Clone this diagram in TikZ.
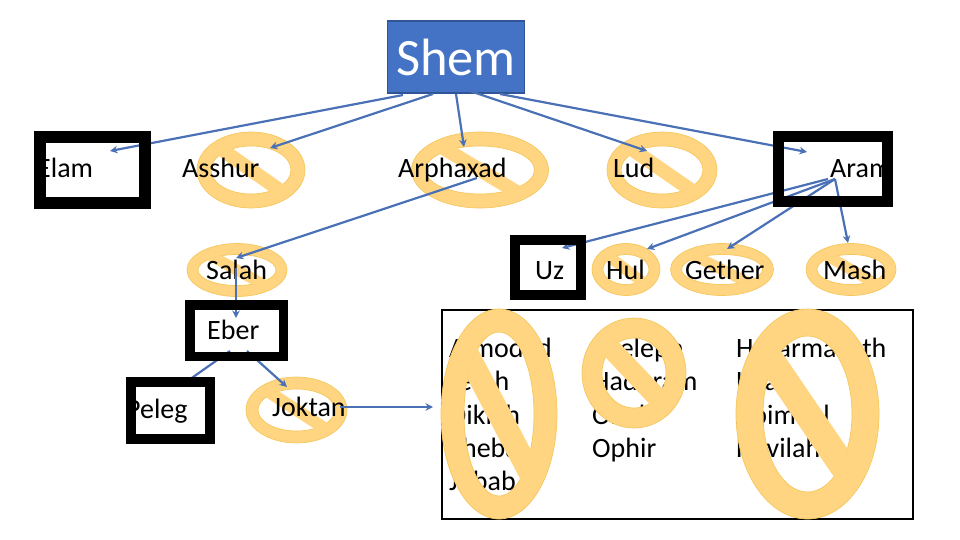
\documentclass[tikz,border=0pt]{standalone}
\usepackage{fontspec}
\setmainfont{Carlito}
\definecolor{shemblue}{HTML}{4472C4}
\definecolor{shemedge}{HTML}{2F5597}
\definecolor{arrowblue}{HTML}{4A70B5}
\definecolor{ringfill}{HTML}{FFD581}
\definecolor{ringedge}{HTML}{F5C75E}
\usetikzlibrary{arrows.meta}
\tikzset{
  lbl/.style={anchor=base west,inner sep=0pt,font=\fontsize{28}{34}\selectfont,text=black},
  frame/.style={draw=black,fill=none,inner sep=0pt},
  link/.style={draw=arrowblue,line width=2.2pt,-{Stealth[length=7.5pt,width=7.5pt]}},
}
% centre x, centre y, width, height, ring thickness, bar slope
\newcommand{\nosmoke}[6]{%
  \begin{scope}[shift={(#1,#2)}]
    \path[fill=ringfill,draw=ringedge,line width=0.7pt,even odd rule]
      (0,0) ellipse [x radius=#3/2,y radius=#4/2]
      (0,0) ellipse [x radius=#3/2-#5,y radius=#4/2-#5];
    \begin{scope}
      \clip (0,0) ellipse [x radius=#3/2-#5+0.5,y radius=#4/2-#5+0.5];
      \pgfmathsetmacro{\ang}{atan(#6)}
      \pgfmathsetmacro{\dxv}{cos(\ang)}
      \pgfmathsetmacro{\dyv}{sin(\ang)}
      \pgfmathsetmacro{\ha}{#5/2}
      \fill[ringfill]
        ({-300*\dxv+\ha*\dyv},{-300*\dyv-\ha*\dxv}) --
        ({300*\dxv+\ha*\dyv},{300*\dyv-\ha*\dxv}) --
        ({300*\dxv-\ha*\dyv},{300*\dyv+\ha*\dxv}) --
        ({-300*\dxv-\ha*\dyv},{-300*\dyv+\ha*\dxv}) -- cycle;
    \end{scope}
  \end{scope}}
\begin{document}
\begin{tikzpicture}[x=1pt,y=-1pt]
\useasboundingbox (0,0) rectangle (960,540);
% prohibition marks behind the labels
\nosmoke{251}{170}{108}{76}{14}{0.70}
\nosmoke{480}{170}{137}{76}{14}{0.60}
\nosmoke{662}{170}{110}{76}{14}{0.69}
\nosmoke{237}{270}{100}{53}{11}{0.55}
\nosmoke{626}{269.5}{68}{52}{11}{0.76}
\nosmoke{722}{269.5}{103}{52}{11}{0.50}
\nosmoke{851}{269.5}{90}{52}{11}{0.58}
\nosmoke{296.5}{410}{101}{66}{12}{0.65}
% box round the list
\node[draw=black,line width=2pt,fill=none,minimum width=471pt,minimum height=209pt,inner sep=0pt] (listbox) at (677,414.5) {};
% Shem
\node[fill=shemblue,draw=shemedge,line width=1.5pt,minimum width=137pt,minimum height=72pt,inner sep=0pt,text=white,font=\fontsize{52.5}{60}\selectfont] (shem) at (456,57) {Shem};
% labels
\node[lbl] (elam) at (37,178) {Elam};
\node[lbl] (asshur) at (182,178) {Asshur};
\node[lbl] (arphaxad) at (398,178) {Arphaxad};
\node[lbl] (lud) at (613,178) {Lud};
\node[lbl] (aram) at (830,178) {Aram};
\node[lbl] (salah) at (206,279) {Salah};
\node[lbl] (uz) at (535,279) {Uz};
\node[lbl] (hul) at (606,279) {Hul};
\node[lbl] (gether) at (685,279) {Gether};
\node[lbl] (mash) at (823,279) {Mash};
\node[lbl] (eber) at (207,339) {Eber};
\node[lbl] (peleg) at (126,418) {Peleg};
\node[lbl] (joktan) at (272,416) {Joktan};
% list
\node[lbl] (l11) at (449,357) {Almodad};
\node[lbl] (l12) at (449,390) {Jerah};
\node[lbl] (l13) at (449,424) {Diklah};
\node[lbl] (l14) at (449,457) {Sheba};
\node[lbl] (l15) at (449,490) {Jobab};
\node[lbl] (l21) at (592,357) {Sheleph};
\node[lbl] (l22) at (592,390) {Hadoram};
\node[lbl] (l23) at (592,424) {Obal};
\node[lbl] (l24) at (592,457) {Ophir};
\node[lbl] (l31) at (736,357) {Hazarmaveth};
\node[lbl] (l32) at (736,390) {Uzal};
\node[lbl] (l33) at (736,424) {Abimael};
\node[lbl] (l34) at (736,457) {Havilah};
% connector ends
\coordinate (sA) at (403,95);
\coordinate (sB) at (433,94);
\coordinate (sC) at (456,94);
\coordinate (sD) at (470,91);
\coordinate (sE) at (500,94);
\coordinate (tElam) at (110,151);
\coordinate (tAsshur) at (270,148);
\coordinate (tArph) at (464,147);
\coordinate (tLud) at (647,151);
\coordinate (tAram) at (807,152);
\coordinate (fArph) at (477,178);
\coordinate (tSalah) at (236,258);
\coordinate (fSalah) at (236,268);
\coordinate (tEber) at (236,318);
\coordinate (fEberL) at (230,351);
\coordinate (fEberR) at (247,351);
\coordinate (tPeleg) at (179,387);
\coordinate (tJoktan) at (287,387);
\coordinate (fJoktan) at (340,407);
\coordinate (tList) at (433,407);
\coordinate (fAramA) at (828,179);
\coordinate (fAramB) at (835,179);
\coordinate (tUz) at (562,248);
\coordinate (tHul) at (647,249);
\coordinate (tGether) at (727,249);
\coordinate (tMash) at (848,243);
% connectors
\draw[link] (sA) -- (tElam);
\draw[link] (sB) -- (tAsshur);
\draw[link] (sC) -- (tArph);
\draw[link] (sD) -- (tLud);
\draw[link] (sE) -- (tAram);
\draw[link] (fArph) -- (tSalah);
\draw[link] (fSalah) -- (tEber);
\draw[link] (fEberL) -- (tPeleg);
\draw[link] (fEberR) -- (tJoktan);
\draw[link] (fJoktan) -- (tList);
\draw[link] (fAramA) -- (tUz);
\draw[link] (fAramB) -- (tHul);
\draw[link] (fAramB) -- (tGether);
\draw[link] (fAramB) -- (tMash);
% heavy frames over text and connectors
\node[frame,line width=12pt,minimum width=105pt,minimum height=66pt] (elamframe) at (92.5,170) {};
\node[frame,line width=11pt,minimum width=109pt,minimum height=65pt] (aramframe) at (833,169) {};
\node[frame,line width=10pt,minimum width=66pt,minimum height=55pt] (uzframe) at (548,267.5) {};
\node[frame,line width=9.5pt,minimum width=93.5pt,minimum height=51.5pt] (eberframe) at (236.5,330.5) {};
\node[frame,line width=10pt,minimum width=79pt,minimum height=57pt] (pelegframe) at (170.5,410.5) {};
% prohibition marks over the list
\nosmoke{499}{414}{116}{210}{23}{1.9}
\nosmoke{634}{373}{104}{110}{20}{1.06}
\nosmoke{807.5}{414}{143}{210}{27}{1.47}
\end{tikzpicture}
\end{document}
